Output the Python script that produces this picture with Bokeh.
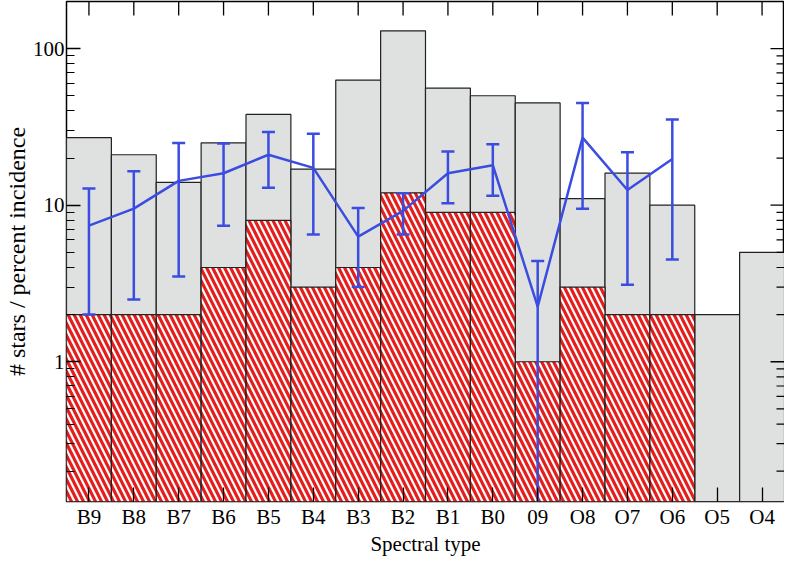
import math
from bokeh.plotting import figure
from bokeh.models import FactorRange, Range1d, FixedTicker, ColumnDataSource
from bokeh.embed import file_html
from bokeh.resources import INLINE

# ---- data ----
types = ["B9", "B8", "B7", "B6", "B5", "B4", "B3", "B2", "B1", "B0",
         "09", "O8", "O7", "O6", "O5", "O4"]
n_stars = [27, 21, 14, 25, 38, 17, 63, 130, 56, 50, 45, 11, 16, 10, 2, 5]
n_binary = [2, 2, 2, 4, 8, 3, 4, 12, 9, 9, 1, 3, 2, 2, 0, 0]
inc_types = ["B9", "B8", "B7", "B6", "B5", "B4", "B3", "B2", "B1", "B0",
             "09", "O8", "O7", "O6"]
incidence = [7.4, 9.5, 14.3, 16.0, 21.0, 17.3, 6.3, 9.2, 16.0, 18.0, 2.25, 27.0, 12.5, 19.7]
inc_low = [2.0, 2.5, 3.5, 7.4, 12.9, 6.5, 3.0, 6.5, 10.3, 11.5, 0.05, 9.5, 3.1, 4.5]
inc_high = [12.8, 16.5, 25.0, 24.8, 29.3, 28.6, 9.6, 11.9, 22.0, 24.5, 4.4, 45.0, 21.8, 35.3]
y_major = [1, 10, 100]
y_minor = [0.2, 0.3, 0.4, 0.5, 0.6, 0.7, 0.8, 0.9,
           2, 3, 4, 5, 6, 7, 8, 9, 20, 30, 40, 50, 60, 70, 80, 90, 200]
y_min, y_max = 0.128, 200

FONT = "Liberation Serif"
GRAY = "#dfe1e1"
RED = "#e41e1c"
BLUE = "#3a4de0"

p = figure(x_range=FactorRange(*types, range_padding=0),
           y_axis_type="log", y_range=Range1d(y_min, y_max),
           width=784, height=558, output_backend="svg", toolbar_location=None,
           min_border_left=50, min_border_right=0, min_border_top=1, min_border_bottom=0)
p.grid.visible = False
p.outline_line_color = "black"
p.outline_line_width = 1.5
p.background_fill_color = "white"

BASE = 0.01
# gray bars: total stars
src_all = ColumnDataSource(dict(x=types, top=n_stars, bottom=[BASE] * len(types)))
p.vbar(x="x", top="top", bottom="bottom", width=1.0, source=src_all,
       fill_color=GRAY, line_color="#222222", line_width=1.2)

# hatched red bars: binaries
bx = [t for t, v in zip(types, n_binary) if v > 0]
bv = [v for v in n_binary if v > 0]
src_b = ColumnDataSource(dict(x=bx, top=bv, bottom=[BASE] * len(bx)))
p.vbar(x="x", top="top", bottom="bottom", width=1.0, source=src_b,
       fill_color=RED, line_color=None)
p.vbar(x="x", top="top", bottom="bottom", width=1.0, source=src_b,
       fill_color=None, fill_alpha=0, line_color="#222222", line_width=1.2,
       hatch_pattern="\\", hatch_color="white", hatch_scale=12, hatch_weight=2.2)

# percent incidence line with error bars
src_i = ColumnDataSource(dict(x=inc_types, y=incidence, lo=inc_low, hi=inc_high))
p.segment(x0="x", y0="lo", x1="x", y1="hi", source=src_i, line_color=BLUE, line_width=2.5)
p.scatter(x="x", y="hi", source=src_i, marker="dash", size=13, line_color=BLUE, line_width=2.5)
p.scatter(x="x", y="lo", source=src_i, marker="dash", size=13, line_color=BLUE, line_width=2.5)
p.line(x="x", y="y", source=src_i, line_color=BLUE, line_width=2.5)

# mirrored ticks on the top and right edges (drawn as half-clipped dash markers)
p.scatter(x=types, y=[y_max] * len(types), marker="dash", angle=math.pi / 2,
          size=28, line_color="black", line_width=1.3)
p.scatter(x=[(types[-1], 0.5)] * len(y_major), y=y_major, marker="dash",
          size=28, line_color="black", line_width=1.3)
p.scatter(x=[(types[-1], 0.5)] * len(y_minor), y=y_minor, marker="dash",
          size=16, line_color="black", line_width=1.2)

# axes styling
def style(ax):
    ax.axis_line_color = None
    ax.major_tick_in = 14
    ax.major_tick_out = 0
    ax.minor_tick_in = 8
    ax.minor_tick_out = 0
    ax.major_tick_line_color = "black"
    ax.minor_tick_line_color = "black"
    ax.major_tick_line_width = 1.3
    ax.minor_tick_line_width = 1.2
    ax.major_label_text_font = FONT
    ax.major_label_text_font_size = "21px"
    ax.major_label_text_color = "black"
    ax.axis_label_text_font = FONT
    ax.axis_label_text_font_size = "21px"
    ax.axis_label_text_font_style = "normal"
    ax.axis_label_text_color = "black"

ya = p.yaxis[0]
ya.ticker = FixedTicker(ticks=y_major, minor_ticks=y_minor)
ya.major_label_overrides = {1: "1", 10: "10", 100: "100"}
style(ya)
ya.axis_label = "# stars / percent incidence"
ya.axis_label_text_font_size = "24px"
ya.major_label_standoff = 2
ya.axis_label_standoff = 0

xa = p.xaxis[0]
style(xa)
xa.axis_label = "Spectral type"
xa.major_label_standoff = 3
xa.axis_label_standoff = 0

open("out.html", "w").write(file_html(p, INLINE))
